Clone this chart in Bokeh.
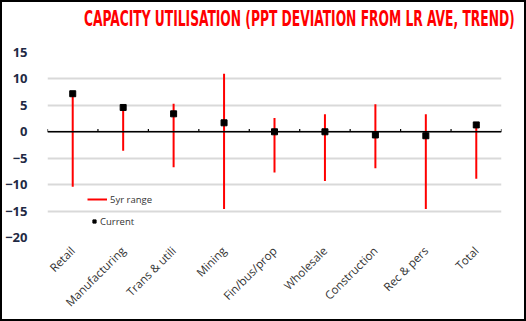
from bokeh.plotting import figure
from bokeh.models import FixedTicker, Legend, LegendItem, Span, ColumnDataSource, Div
from bokeh.layouts import column
from bokeh.embed import file_html
from bokeh.resources import INLINE

title_text = "CAPACITY UTILISATION (PPT DEVIATION FROM LR AVE, TREND)"
categories = ["Retail", "Manufacturing", "Trans & utili", "Mining", "Fin/bus/prop",
              "Wholesale", "Construction", "Rec & pers", "Total"]
range_high = [7.2, 4.6, 5.3, 11.0, 2.6, 3.3, 5.2, 3.3, 1.8]
range_low = [-10.4, -3.6, -6.7, -14.6, -7.7, -9.3, -6.9, -14.6, -8.9]
current = [7.2, 4.6, 3.4, 1.7, 0.0, 0.0, -0.6, -0.75, 1.3]
y_ticks = [-20, -15, -10, -5, 0, 5, 10, 15]

xs = [i + 0.5 for i in range(len(categories))]
bounds = list(range(len(categories) + 1))

src = ColumnDataSource(dict(x=xs, hi=range_high, lo=range_low, cur=current))

title = Div(
    text=('<div style="position:relative;width:522px;height:38px;overflow:hidden;">'
          '<span style="position:absolute;right:9px;top:7px;white-space:nowrap;'
          'transform:scaleX(0.65);transform-origin:right top;'
          'font-family:\'DejaVu Sans Condensed\',\'Liberation Sans\',sans-serif;font-weight:bold;'
          'font-size:21px;line-height:21px;color:#ff0000;">' + title_text + '</span></div>'),
    width=522, height=38, margin=0)

p = figure(width=522, height=279, output_backend="svg", toolbar_location=None,
           x_range=(0, len(categories)), y_range=(-20, 15), margin=0,
           min_border_left=45, min_border_right=23, min_border_top=12, min_border_bottom=82)
p.title = None
p.outline_line_color = None
p.background_fill_color = "white"

# axes
p.xaxis.ticker = FixedTicker(ticks=xs)
p.xaxis.major_label_overrides = {x: c for x, c in zip(xs, categories)}
p.xaxis.major_label_orientation = 0.785
p.xaxis.axis_line_color = None
p.xaxis.major_tick_line_color = None
p.xaxis.minor_tick_line_color = None
p.xaxis.major_label_text_font = "Open Sans"
p.xaxis.major_label_text_font_size = "11.5px"
p.xaxis.major_label_text_color = "#333333"
p.xaxis.major_label_standoff = 5

p.yaxis.ticker = FixedTicker(ticks=y_ticks)
p.yaxis.axis_line_color = None
p.yaxis.major_tick_line_color = None
p.yaxis.minor_tick_line_color = None
p.yaxis.major_label_text_font = "Open Sans"
p.yaxis.major_label_text_font_size = "13px"
p.yaxis.major_label_text_font_style = "bold"
p.yaxis.major_label_text_color = "#1f2a44"
p.yaxis.major_label_standoff = 14

p.xgrid.grid_line_color = None
p.ygrid.ticker = FixedTicker(ticks=y_ticks)
p.ygrid.grid_line_color = "#d9d9d9"
p.ygrid.grid_line_width = 2

# zero axis line with small tick marks at category boundaries
p.add_layout(Span(location=0, dimension="width", line_color="black", line_width=1.5))
p.segment(x0=bounds, x1=bounds, y0=[0] * len(bounds), y1=[0.55] * len(bounds),
          line_color="black", line_width=1.2)

rng = p.segment(x0="x", x1="x", y0="lo", y1="hi", source=src, line_color="#ff0000", line_width=2)
cur = p.scatter(x="x", y="cur", source=src, marker="square", size=6,
                fill_color="black", line_color="black")

leg1 = Legend(items=[LegendItem(label="5yr range", renderers=[rng])],
              location=(40, 28), glyph_width=20, label_standoff=3,
              label_text_font_size="9.5px", label_text_color="#333333",
              label_text_font="Open Sans",
              background_fill_alpha=0, border_line_color=None, padding=0, margin=0)
leg2 = Legend(items=[LegendItem(label="Current", renderers=[cur])],
              location=(43, 6), glyph_width=8, label_standoff=2,
              label_text_font_size="9.5px", label_text_color="#333333",
              label_text_font="Open Sans",
              background_fill_alpha=0, border_line_color=None, padding=0, margin=0)
p.add_layout(leg1)
p.add_layout(leg2)

layout = column(title, p, spacing=0, margin=0,
                styles={"border": "2px solid black", "background-color": "white"})

open("out.html", "w").write(file_html(layout, INLINE))
